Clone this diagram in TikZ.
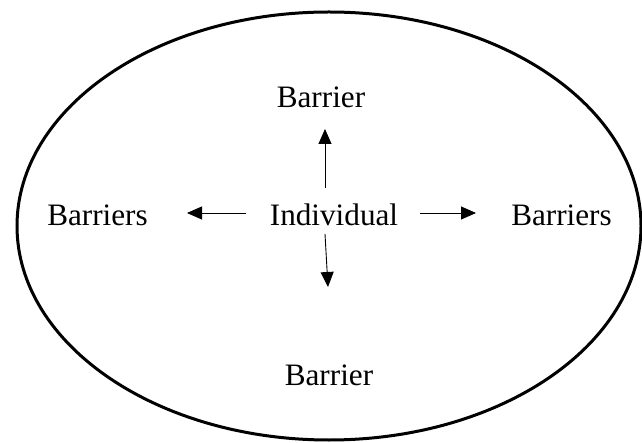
\documentclass[tikz,border=0pt]{standalone}
\usepackage{fontspec}
\setmainfont{Liberation Serif}
\usetikzlibrary{arrows.meta}
\tikzset{
  lbl/.style={inner sep=0pt, font=\fontsize{31.2}{35}\selectfont},
  arr/.style={line width=0.9pt, -{Triangle[length=15pt,width=13pt]}},
  outline/.style={line width=3pt}
}
\begin{document}
\begin{tikzpicture}[x=1pt,y=-1pt]
\useasboundingbox (0,0) rectangle (642,443);
\draw[outline] (329,226) ellipse [x radius=312, y radius=214];
\node[lbl] (top) at (321,97) {Barrier};
\node[lbl] (ind) at (334,215) {Individual};
\node[lbl] (left) at (97.5,215) {Barriers};
\node[lbl] (right) at (561.5,215) {Barriers};
\node[lbl] (bot) at (329,375) {Barrier};
\coordinate (u1) at (325,188);
\coordinate (u2) at (325,129);
\coordinate (l1) at (246,213);
\coordinate (l2) at (187,213);
\coordinate (r1) at (420,213);
\coordinate (r2) at (476,213);
\coordinate (d1) at (325,234);
\coordinate (d2) at (328,287);
\draw[arr] (u1) -- (u2);
\draw[arr] (l1) -- (l2);
\draw[arr] (r1) -- (r2);
\draw[arr] (d1) -- (d2);
\end{tikzpicture}
\end{document}
